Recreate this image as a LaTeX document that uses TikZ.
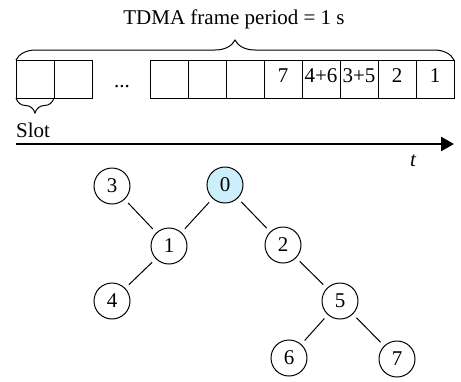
\documentclass[tikz,border=0pt]{standalone}
\usepackage{fontspec}
\setmainfont{Liberation Serif}
\usetikzlibrary{arrows.meta,decorations.pathreplacing}
\begin{document}
\begin{tikzpicture}[x=1pt,y=-1pt,
  every node/.style={font=\fontsize{21}{25}\selectfont},
  slotbox/.style={draw, line width=1pt, minimum width=38pt, minimum height=38pt,
                  inner sep=0pt, outer sep=0pt},
  slotlabel/.style={anchor=base, inner sep=0pt},
  treenode/.style={draw, circle, line width=1pt, minimum size=36pt, inner sep=0pt},
  rootnode/.style={treenode, fill=cyan!20},
  treeedge/.style={line width=1pt, shorten >=5pt, shorten <=5pt},
  bracestyle/.style={draw, line width=1pt, decorate}]
\useasboundingbox (0,0) rectangle (461,381);

% title over the frame
\node[anchor=base, inner sep=0pt] (title) at (234,24) {TDMA frame period = 1 s};

% slots of one frame
\node[slotbox] (b1) at (35,79) {};
\node[slotbox] (b2) at (73,79) {};
\node[anchor=base, inner sep=0pt] (dots) at (122,87) {...};
\node[slotbox] (b3) at (169,79) {};
\node[slotbox] (b4) at (207,79) {};
\node[slotbox] (b5) at (245,79) {};
\node[slotbox] (b6) at (283,79) {};
\node[slotbox] (b7) at (321,79) {};
\node[slotbox] (b8) at (359,79) {};
\node[slotbox] (b9) at (397,79) {};
\node[slotbox] (b10) at (435,79) {};

\node[slotlabel] (l6) at ([yshift=-3pt]b6.center) {7};
\node[slotlabel] (l7) at ([yshift=-3pt]b7.center) {4+6};
\node[slotlabel] (l8) at ([yshift=-3pt]b8.center) {3+5};
\node[slotlabel] (l9) at ([yshift=-3pt]b9.center) {2};
\node[slotlabel] (l10) at ([yshift=-3pt]b10.center) {1};

% braces
\draw[bracestyle, decoration={brace, amplitude=20pt}] (b1.north west) -- (b10.north east);
\draw[bracestyle, decoration={brace, amplitude=15pt}] (b1.south east) -- (b1.south west);
\node[anchor=base west, inner sep=0pt] (slot) at (16,137) {Slot};

% time axis
\coordinate (tstart) at (16,144);
\coordinate (tend) at (454,144);
\draw[line width=2.6pt, -{Triangle[length=13pt, width=14pt]}] (tstart) -- (tend);
\node[inner sep=0pt] (t) at (413,161) {\itshape t};

% routing tree
\node[rootnode] (n0) at (225,185) {0};
\node[treenode] (n3) at (112,186) {3};
\node[treenode] (n1) at (169,246) {1};
\node[treenode] (n2) at (283,245) {2};
\node[treenode] (n4) at (112,301) {4};
\node[treenode] (n5) at (340,301) {5};
\node[treenode] (n6) at (289,358) {6};
\node[treenode] (n7) at (397,359) {7};

\draw[treeedge] (n0) -- (n1);
\draw[treeedge] (n0) -- (n2);
\draw[treeedge] (n1) -- (n3);
\draw[treeedge] (n1) -- (n4);
\draw[treeedge] (n2) -- (n5);
\draw[treeedge] (n5) -- (n6);
\draw[treeedge] (n5) -- (n7);
\end{tikzpicture}
\end{document}
